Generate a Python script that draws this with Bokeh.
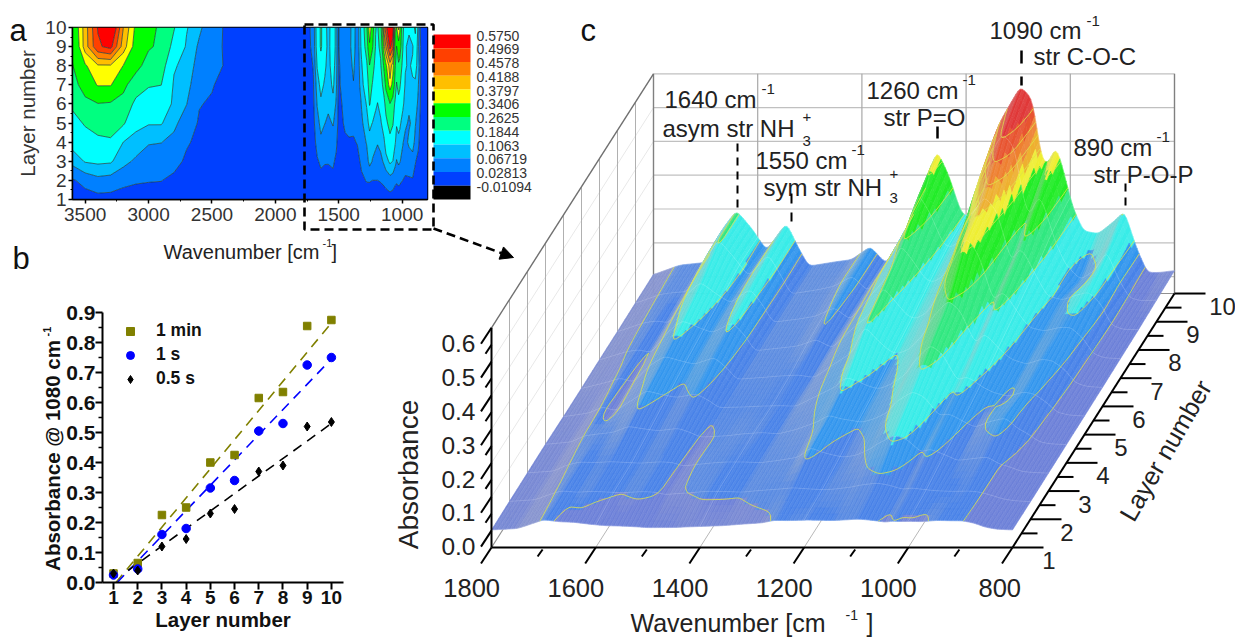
import numpy as np
from bokeh.embed import file_html
from bokeh.resources import INLINE
from bokeh.plotting import figure, ColumnDataSource
from bokeh.plotting.contour import contour_data
from bokeh.models import (Range1d, FixedTicker, Legend, LegendItem, Arrow, NormalHead,
                          Column, PrintfTickFormatter)

# ---------- data ----------
layers = [1, 2, 3, 4, 5, 6, 7, 8, 9, 10]

# panel b
abs_1min = [.03, .065, .225, .25, .40, .425, .615, .635, .855, .875]
abs_1s = [.025, .045, .16, .18, .315, .34, .505, .53, .725, .75]
abs_05s = [.03, .04, .12, .145, .23, .245, .37, .39, .52, .535]
fit_x_1min, fit_y_1min = [1.1, 10], [0.0, .865]
fit_x_1s, fit_y_1s = [1.15, 10], [0.0, .745]
fit_x_05s, fit_y_05s = [1.6, 10], [0.04, .53]

# colour scale of panel a
scale_labels = ["0.5750", "0.4969", "0.4578", "0.4188", "0.3797", "0.3406", "0.2625", "0.1844",
                "0.1063", "0.06719", "0.02813", "-0.01094"]
scale_colors = ["#ff0000", "#ff4000", "#ff8000", "#ffbf00", "#ffff00", "#00ff00", "#00ff80", "#00ffff",
                "#00bfff", "#0080ff", "#0040ff", "#000000"]
levels = [-.01094, .02813, .06719, .1063, .1844, .2625, .3406, .3797, .4188, .4578, .4969, .62]

# absorbance at layers 1..10 per wavenumber, high range
h3600 = [.010, .024, .080, .125, .165, .195, .230, .260, .275, .290]
h3500 = [.012, .040, .110, .160, .190, .240, .300, .335, .400, .400]
h3400 = [.015, .055, .115, .170, .210, .260, .345, .375, .490, .500]
h3300 = [.015, .050, .112, .175, .215, .255, .345, .375, .510, .560]
h3200 = [.012, .038, .080, .106, .195, .240, .280, .340, .400, .420]
h3100 = [.012, .032, .060, .090, .120, .165, .225, .285, .320, .330]
h3000 = [.012, .030, .050, .070, .110, .150, .190, .235, .270, .275]
h2900 = [.012, .029, .050, .068, .110, .150, .185, .220, .250, .255]
h2800 = [.010, .020, .040, .058, .075, .095, .100, .112, .160, .190]
h2700 = [.008, .012, .022, .032, .050, .068, .080, .090, .100, .110]
h2600 = [.005, .010, .015, .020, .024, .030, .040, .050, .060, .075]
h2500 = [.004, .006, .010, .012, .015, .024, .031, .035, .037, .040]
h2400 = [.002, .004, .006, .008, .010, .012, .016, .027, .026, .026]
h2300 = [.001, .002, .003, .004, .005, .006, .007, .008, .009, .010]
h2000 = [.001, .001, .002, .002, .003, .003, .004, .004, .005, .005]
high_wn = [3600, 3500, 3400, 3300, 3200, 3100, 3000, 2900, 2800, 2700, 2600, 2500, 2400, 2300, 2000]
high_cols = [h3600, h3500, h3400, h3300, h3200, h3100, h3000, h2900, h2800, h2700, h2600, h2500, h2400, h2300, h2000]

# absorbance at layers 1..10 per wavenumber, fingerprint range
a1800 = [.001, .001, .002, .002, .003, .003, .004, .004, .005, .006]
a1750 = [.002, .003, .004, .005, .006, .007, .008, .009, .012, .014]
a1726 = [.003, .005, .008, .010, .013, .015, .018, .020, .026, .028]
a1700 = [.004, .008, .012, .016, .020, .022, .026, .030, .040, .042]
a1670 = [.006, .014, .025, .038, .050, .070, .085, .110, .130, .136]
a1641 = [.008, .020, .033, .058, .080, .098, .120, .150, .195, .196]
a1610 = [.007, .019, .030, .050, .068, .085, .100, .115, .140, .140]
a1583 = [.006, .018, .030, .045, .060, .075, .085, .090, .085, .077]
a1545 = [.008, .020, .033, .052, .070, .095, .115, .130, .150, .160]
a1520 = [.006, .014, .022, .035, .050, .062, .075, .080, .085, .080]
a1502 = [.004, .008, .012, .015, .018, .020, .024, .025, .027, .027]
a1450 = [.004, .008, .014, .024, .032, .036, .040, .042, .045, .044]
a1420 = [.004, .008, .016, .026, .034, .040, .045, .050, .055, .050]
a1384 = [.006, .010, .016, .025, .035, .042, .065, .075, .085, .089]
a1353 = [.004, .010, .018, .030, .034, .035, .040, .040, .040, .038]
a1320 = [.008, .022, .035, .048, .060, .070, .090, .100, .120, .127]
a1280 = [.010, .030, .050, .070, .090, .110, .140, .170, .220, .246]
a1257 = [.012, .030, .080, .090, .118, .190, .220, .260, .330, .379]
a1234 = [.010, .028, .065, .080, .105, .150, .180, .215, .270, .305]
a1209 = [.010, .028, .055, .075, .090, .115, .135, .160, .180, .187]
a1194 = [.010, .028, .050, .070, .085, .105, .125, .150, .170, .178]
a1170 = [.012, .030, .055, .080, .100, .120, .145, .175, .200, .225]
a1142 = [.012, .035, .075, .100, .130, .165, .220, .280, .370, .440]
a1128 = [.012, .040, .090, .130, .165, .210, .280, .330, .420, .480]
a1096 = [.014, .050, .115, .160, .215, .260, .370, .400, .510, .565]
a1073 = [.012, .045, .105, .145, .190, .230, .320, .360, .470, .530]
a1055 = [.010, .035, .080, .110, .140, .170, .235, .270, .310, .350]
a1044 = [.009, .032, .065, .090, .110, .135, .180, .210, .260, .335]
a1028 = [.012, .035, .075, .095, .120, .165, .205, .250, .320, .388]
a1019 = [.011, .033, .070, .090, .115, .155, .195, .235, .310, .350]
a995 = [.010, .028, .055, .070, .090, .115, .140, .165, .190, .205]
a975 = [.008, .024, .040, .055, .075, .090, .100, .110, .120, .136]
a946 = [.007, .024, .045, .075, .062, .075, .090, .100, .070, .130]
a917 = [.006, .025, .050, .085, .075, .090, .100, .115, .100, .166]
a896 = [.006, .018, .030, .055, .070, .085, .100, .120, .160, .196]
a873 = [.004, .012, .020, .035, .045, .060, .070, .090, .075, .086]
a852 = [.003, .005, .008, .012, .016, .020, .022, .024, .022, .012]
a830 = [.002, .003, .005, .006, .008, .009, .010, .011, .012, .012]
a800 = [.001, .002, .003, .004, .005, .006, .008, .010, .014, .018]
low_wn = [1800, 1750, 1726, 1700, 1670, 1641, 1610, 1583, 1545, 1520, 1502, 1450, 1420, 1384, 1353, 1320, 1280,
          1257, 1234, 1209, 1194, 1170, 1142, 1128, 1096, 1073, 1055, 1044, 1028, 1019, 995, 975, 946, 917, 896,
          873, 852, 830, 800]
low_cols = [a1800, a1750, a1726, a1700, a1670, a1641, a1610, a1583, a1545, a1520, a1502, a1450, a1420, a1384, a1353,
            a1320, a1280, a1257, a1234, a1209, a1194, a1170, a1142, a1128, a1096, a1073, a1055, a1044, a1028, a1019,
            a995, a975, a946, a917, a896, a873, a852, a830, a800]

c_layer1 = [.002, .006, .018, .032, .026, .024, .018, .014, .012, .010, .008, .008, .010, .012, .014, .018, .022,
            .030, .029, .030, .031, .030, .029, .030, .033, .030, .027, .024, .028, .026, .027, .026, .030, .029, .029,
            .022, .010, .004, .002]
c_layer2 = [.003, .008, .022, .034, .030, .033, .031, .029, .033, .031, .024, .030, .034, .033, .031, .036, .040,
            .042, .040, .038, .037, .040, .045, .050, .055, .050, .042, .038, .042, .040, .036, .034, .032, .033, .030,
            .020, .010, .005, .002]
c_layer3 = [.004, .009, .026, .036, .034, .036, .034, .032, .036, .034, .024, .033, .036, .036, .034, .040, .050,
            .080, .065, .055, .050, .055, .075, .090, .115, .105, .080, .065, .075, .070, .055, .040, .045, .050, .030,
            .020, .008, .005, .003]
c_layer4 = [.005, .012, .030, .036, .040, .058, .050, .045, .052, .038, .026, .030, .036, .040, .036, .048, .070,
            .090, .080, .075, .070, .080, .100, .130, .160, .145, .110, .090, .095, .090, .070, .055, .075, .085, .055,
            .035, .012, .006, .004]
# upper layers of panel c that differ from panel a
c1750_upper = [.014, .022, .028, .030, .032, .034]
c1726_upper = [.032, .034, .034, .036, .036, .038]
c1502_upper = [.030, .030, .031, .032, .032, .031]

FONT = "Liberation Sans"

# ---------- panel a ----------
all_wn = np.array((high_wn + low_wn)[::-1], dtype=float)
all_z = np.array((high_cols + low_cols)[::-1], dtype=float).T
pa = figure(width=439, height=240, x_range=Range1d(3600, 800), y_range=Range1d(1, 10),
            output_backend="svg", toolbar_location=None, min_border_left=72, min_border_top=27,
            min_border_right=12, min_border_bottom=41, background_fill_color=None, border_fill_color=None)
pa.grid.visible = False
pa.contour(all_wn, np.array(layers, dtype=float), all_z, levels=levels,
           fill_color=scale_colors[:-1][::-1], line_color="#1a3a3a", line_width=0.7)
pa.xaxis.ticker = FixedTicker(ticks=[3500, 3000, 2500, 2000, 1500, 1000], minor_ticks=[3250, 2750, 2250, 1750, 1250])
pa.yaxis.ticker = FixedTicker(ticks=layers, minor_ticks=[1.5, 2.5, 3.5, 4.5, 5.5, 6.5, 7.5, 8.5, 9.5])
pa.yaxis.axis_label = "Layer number"
for ax in (pa.xaxis[0], pa.yaxis[0]):
    ax.major_label_text_font = FONT
    ax.major_label_text_font_size = "19px"
    ax.major_label_text_color = "#333333"
    ax.axis_label_text_font = FONT
    ax.axis_label_text_font_size = "20.5px"
    ax.axis_label_text_font_style = "normal"
    ax.axis_label_text_color = "#333333"
    ax.major_tick_in = 0
    ax.minor_tick_in = 0
    ax.major_tick_out = 4
    ax.minor_tick_out = 2
    ax.axis_line_width = 1.5
    ax.major_tick_line_width = 1.5
    ax.major_label_standoff = 2
pa.yaxis.axis_label_standoff = 3
pa.xaxis.major_label_standoff = 4
pa.outline_line_color = "#000000"
pa.outline_line_width = 1.5

# ---------- panel b ----------
pb = figure(width=353, height=398, x_range=Range1d(.545, 10.5), y_range=Range1d(0, .9),
            output_backend="svg", toolbar_location=None, min_border_left=102, min_border_top=72,
            min_border_right=10, min_border_bottom=56, background_fill_color=None, border_fill_color=None)
pb.grid.visible = False
pb.outline_line_color = None
pb.line(fit_x_1min, fit_y_1min, line_color="#808000", line_width=1.6, line_dash="10 7")
pb.line(fit_x_1s, fit_y_1s, line_color="#0000ff", line_width=1.6, line_dash="10 7")
pb.line(fit_x_05s, fit_y_05s, line_color="#000000", line_width=1.6, line_dash="10 7")
r1 = pb.scatter(layers, abs_1min, marker="square", size=7.5, color="#808000")
r2 = pb.scatter(layers, abs_1s, marker="circle", size=8.5, color="#0000ff")
r3 = pb.scatter(layers, abs_05s, marker="diamond", size=9, color="#000000")
leg = Legend(items=[LegendItem(label="1 min", renderers=[r1]), LegendItem(label="1 s", renderers=[r2]),
                    LegendItem(label="0.5 s", renderers=[r3])],
             location=(18, 193), margin=0, padding=0, spacing=3, glyph_width=20, glyph_height=20, label_height=20,
             label_standoff=16, border_line_color=None, background_fill_alpha=0,
             label_text_font=FONT, label_text_font_style="bold", label_text_font_size="17.5px",
             label_text_color="#111111")
pb.add_layout(leg)
pb.xaxis.ticker = FixedTicker(ticks=layers)
pb.yaxis.ticker = FixedTicker(ticks=[0, .1, .2, .3, .4, .5, .6, .7, .8, .9],
                              minor_ticks=[.05, .15, .25, .35, .45, .55, .65, .75, .85])
pb.yaxis.formatter = PrintfTickFormatter(format="%.1f")
pb.xaxis.axis_label = "Layer number"
for ax in (pb.xaxis[0], pb.yaxis[0]):
    ax.major_label_text_font = FONT
    ax.major_label_text_font_style = "bold"
    ax.major_label_text_font_size = "19px"
    ax.major_label_text_color = "#111111"
    ax.axis_label_text_font = FONT
    ax.axis_label_text_font_style = "bold"
    ax.axis_label_text_font_size = "20.5px"
    ax.axis_label_text_color = "#111111"
    ax.axis_line_width = 2
    ax.major_tick_line_width = 2
    ax.minor_tick_line_width = 1.5
    ax.major_tick_in = 0
    ax.minor_tick_in = 0
    ax.major_tick_out = 7
    ax.minor_tick_out = 4
    ax.major_label_standoff = 1
pb.yaxis.major_label_text_font_size = "21px"
pb.yaxis.major_label_standoff = 0
pb.xaxis.axis_label_standoff = 1

# ---------- panel c ----------
pc = figure(width=1235, height=638, x_range=Range1d(0, 1235), y_range=Range1d(638, 0),
            output_backend="svg", toolbar_location=None, min_border=0, x_axis_location=None, y_axis_location=None,
            background_fill_color=None, border_fill_color=None)
pc.grid.visible = False
pc.outline_line_color = None


def sx(w, l, z=0.0):
    return 491 + (1800 - np.asarray(w, dtype=float)) * 0.521 + (np.asarray(l, dtype=float) - 1) * 18.0


def sy(w, l, z=0.0):
    return 547 - (np.asarray(l, dtype=float) - 1) * 28.22 - (np.asarray(z, dtype=float) + .05) * 338.0


ZB, ZT = -.05, .6
# walls
for zv in [0, .1, .2, .3, .4, .5, .6]:
    pc.line(sx([1800, 800], 10), sy(0, 10, [zv, zv]), line_color="#c0c0c0", line_width=1.2)
    pc.line(sx(1800, [1, 10]), sy(0, [1, 10], zv), line_color="#e8e8e8", line_width=1)
for wv in [1600, 1400, 1200, 1000]:
    pc.line(sx([wv, wv], 10), sy(0, 10, [ZB, ZT]), line_color="#a8a8a8", line_width=1.2)
    pc.line(sx([wv, wv], [1, 10]), sy(0, [1, 10], ZB), line_color="#b8b8b8", line_width=1)
for lv in [2, 3, 4, 5, 6, 7, 8, 9]:
    pc.line(sx(1800, [lv, lv]), sy(0, lv, [ZB, ZT]), line_color="#b0b0b0", line_width=1)
pc.line(sx(1800, [10, 10]), sy(0, 10, [ZB, ZT]), line_color="#808080", line_width=1.4)
pc.line(sx(800, [10, 10]), sy(0, 10, [ZB, ZT]), line_color="#808080", line_width=1.4)
pc.line(sx(1800, [1, 10]), sy(0, [1, 10], ZT), line_color="#707070", line_width=1.4)
pc.line(sx(1800, [1, 10]), sy(0, [1, 10], ZB), line_color="#909090", line_width=1.2)
pc.line(sx([1800, 800], 10), sy(0, 10, ZB), line_color="#909090", line_width=1.2)

# surface on a fine mesh drawn from the tables
wf = np.arange(1800, 799, -4.0)
lf = np.arange(1, 10.01, .2)
col_arr = np.array(low_cols, dtype=float)
col_arr[:, 0] = c_layer1
col_arr[:, 1] = c_layer2
col_arr[:, 2] = c_layer3
col_arr[:, 3] = c_layer4
col_arr[low_wn.index(1750), 4:] = c1750_upper
col_arr[low_wn.index(1726), 4:] = c1726_upper
col_arr[low_wn.index(1502), 4:] = c1502_upper
wasc = np.array(low_wn[::-1], dtype=float)
Zw = np.array([np.interp(wf[::-1], wasc, col_arr[::-1, k])[::-1] for k in range(10)])
ker = np.exp(-.5 * (np.arange(-6, 7) / 1.2) ** 2)
ker /= ker.sum()
Zw = np.array([np.convolve(np.pad(r, 6, mode="edge"), ker, mode="valid") for r in Zw])
Zf = np.array([np.interp(lf, layers, Zw[:, i]) for i in range(len(wf))]).T  # shape (nl, nw)
ker2 = np.array([.25, .5, .25])
Zf = np.array([np.convolve(np.pad(Zf[:, i], 1, mode="edge"), ker2, mode="valid") for i in range(len(wf))]).T

surf_levels = np.array(levels[1:-1])
surf_rgb = np.array([(108, 128, 216), (72, 130, 232), (50, 150, 238), (56, 236, 232),
                     (48, 232, 128), (34, 236, 40), (238, 238, 50), (238, 176, 48), (238, 128, 48),
                     (232, 84, 48), (224, 56, 56)], dtype=float)
xs, ys, cols = [], [], []
for j in range(len(lf) - 2, -1, -1):
    for i in range(len(wf) - 1):
        zq = [Zf[j, i], Zf[j, i + 1], Zf[j + 1, i + 1], Zf[j + 1, i]]
        wq = [wf[i], wf[i + 1], wf[i + 1], wf[i]]
        lq = [lf[j], lf[j], lf[j + 1], lf[j + 1]]
        xs.append(sx(wq, lq).tolist())
        ys.append(sy(0, lq, zq).tolist())
        zm = float(np.mean(zq))
        rgb = surf_rgb[int(np.searchsorted(surf_levels, zm))].copy()
        rise = max(0.0, (Zf[j, i + 1] - Zf[j, i]) / 4.0)
        t = min(.72, 15.0 * rise ** .5) * (1 - min(1.0, zm / .4) * .7)
        rgb = rgb * (1 - t) + np.array([188, 188, 190]) * t
        if i % 2:
            rgb = rgb + (255 - rgb) * .06
        cols.append("#%02x%02x%02x" % tuple(int(v) for v in rgb))
pc.patches(xs="xs", ys="ys", fill_color="cols", line_color="cols", line_width=.6,
           source=ColumnDataSource(dict(xs=xs, ys=ys, cols=cols)))

# faint grid on the surface
iz = [np.array([np.interp(lv, lf, Zf[:, i]) for i in range(len(wf))]) for lv in layers]
for k, lv in enumerate(layers):
    pc.line(sx(wf, lv), sy(0, lv, iz[k]), line_color="#ffffff", line_alpha=.22, line_width=.8)
for wv in [1600, 1400, 1200, 1000]:
    zz = [np.interp(wv, wf[::-1], Zf[j][::-1]) for j in range(len(lf))]
    pc.line(sx(wv, lf), sy(0, lf, zz), line_color="#ffffff", line_alpha=.22, line_width=.8)

# yellow contour lines on the surface
lv_lines = levels[1:-1]
cd = contour_data(wf[::-1], lf, Zf[:, ::-1], lv_lines, want_fill=False, want_line=True)
for lv, xl, yl in zip(lv_lines, cd.line_data.xs, cd.line_data.ys):
    if len(xl):
        pc.line(sx(xl, yl), sy(0, yl, lv), line_color="#dfe24a", line_width=.9, line_alpha=.9)

# axes of the 3D box
AX = "#000000"
pc.line(sx([1800, 800], 1), sy(0, 1, ZB), line_color=AX, line_width=2)
pc.line(sx(800, [1, 10]), sy(0, [1, 10], ZB), line_color=AX, line_width=2)
pc.line(sx(1800, [1, 1]), sy(0, 1, [ZB, ZT]), line_color=AX, line_width=2)
wn_ticks = [1800, 1600, 1400, 1200, 1000, 800]
wn_minor = [1700, 1500, 1300, 1100, 900]
for wv in wn_ticks:
    x0, y0 = float(sx(wv, 1)), float(sy(0, 1, ZB))
    pc.line([x0, x0 - 10.5], [y0, y0 + 16], line_color=AX, line_width=2)
for wv in wn_minor:
    x0, y0 = float(sx(wv, 1)), float(sy(0, 1, ZB))
    pc.line([x0 - 1, x0 - 6], [y0 + 2, y0 + 9], line_color=AX, line_width=2)
pc.text(sx(wn_ticks, 1) + 8.5, [587] * 6, text=[str(v) for v in wn_ticks], text_font={"value": FONT},
        text_font_size="25.5px", text_align="right", text_baseline="middle", text_color="#222222")
z_ticks = [0, .1, .2, .3, .4, .5, .6]
for zv in z_ticks:
    x0, y0 = float(sx(1800, 1)), float(sy(0, 1, zv))
    pc.line([x0, x0 - 10.5], [y0, y0 + 16], line_color=AX, line_width=2)
    x1, y1 = float(sx(1800, 1)), float(sy(0, 1, zv - .05))
    if zv > 0:
        pc.line([x1, x1 - 6], [y1, y1 + 9], line_color=AX, line_width=2)
pc.text([475] * 7, sy(0, 1, z_ticks) + 16, text=["%.1f" % v for v in z_ticks], text_font={"value": FONT},
        text_font_size="24.5px", text_align="right", text_baseline="middle", text_color="#222222")
for lv in layers:
    x0, y0 = float(sx(800, lv)), float(sy(0, lv, ZB))
    pc.line([x0, x0 + 31], [y0, y0], line_color=AX, line_width=2)
    if lv < 10:
        x0, y0 = float(sx(800, lv + .5)), float(sy(0, lv + .5, ZB))
        pc.line([x0, x0 + 16], [y0, y0], line_color=AX, line_width=2)
pc.text(sx(800, layers) + np.array([48 if v > 9 else 36.5 for v in layers]), sy(0, layers, ZB) + 13,
        text=[str(v) for v in layers], text_font={"value": FONT}, text_font_size="24px",
        text_align="center", text_baseline="middle", text_color="#222222")


def label(x, y, s, size, angle=0.0, align="left", style="normal", color="#222222"):
    pc.text([x], [y], text=[s], text_font={"value": FONT}, text_font_size=f"{size}px", text_align=align,
            text_baseline="middle", angle=angle, text_color=color, text_font_style=style)


label(408, 474, "Absorbance", 28, angle=np.pi / 2, align="center")
label(1165, 450, "Layer number", 25.5, angle=np.radians(60), align="center")
label(630, 622, "Wavenumber [cm", 25)
label(845, 614, "-1", 14)
label(866, 622, "]", 25)

# peak annotations
for x, y, s, sup_x, sup_y in [(664, 99, "1640 cm", 761, 88), (755, 160, "1550 cm", 851, 149), (866, 90, "1260 cm", 962, 79),
                              (989, 30, "1090 cm", 1086, 20), (1073, 147, "890 cm", 1156, 136)]:
    label(x, y, s, 24)
    label(sup_x, sup_y, "-1", 15)
label(662, 128, "asym str NH", 24)
label(802, 140, "3", 15)
label(802, 116, "+", 15)
label(763, 187, "sym str NH", 24)
label(889, 197, "3", 15)
label(889, 173, "+", 15)
label(883, 117, "str P=O", 24)
label(1033, 56, "str C-O-C", 24)
label(1093, 174, "str P-O-P", 24)
pc.line([737, 737], [143, 208], line_color="#000000", line_width=2, line_dash="8 6")
pc.line([791, 791], [193, 203], line_color="#000000", line_width=2)
pc.line([791, 791], [212, 221], line_color="#000000", line_width=2)
pc.line([937, 937], [126, 138], line_color="#000000", line_width=2.5)
pc.line([1021, 1021], [50, 63], line_color="#000000", line_width=2.5)
pc.line([1021, 1021], [76, 85], line_color="#000000", line_width=2.5)
pc.line([1125, 1125], [183, 210], line_color="#000000", line_width=2, line_dash="8 6")

# panel letters
label(9, 30, "a", 31, color="#111111")
label(12, 258, "b", 31, color="#111111")
label(580, 30, "c", 31, color="#111111")

# panel a: colour scale, axis title, zoom box
n = len(scale_colors)
top, bot = 34.0, 199.0
h = (bot - top) / n
pc.quad(left=433, right=470, top=[top + i * h for i in range(n)], bottom=[top + (i + 1) * h for i in range(n)],
        fill_color=scale_colors, line_color=None)
pc.text([476] * n, [top + 1 + i * h for i in range(n)], text=scale_labels, text_font={"value": FONT},
        text_font_size="14px", text_baseline="middle", text_color="#333333")
label(163, 251, "Wavenumber [cm", 20)
label(322, 242, "-1", 11)
label(331, 251, "]", 20)
pc.line([304, 433, 433, 304, 304], [24, 24, 229, 229, 24], line_color="#000000", line_width=2.6, line_dash="9 5")
pc.add_layout(Arrow(end=NormalHead(size=13, fill_color="#000000", line_color="#000000"), x_start=433, y_start=228,
                    x_end=513, y_end=257, line_color="#000000", line_width=2.6, line_dash="9 5"))

# panel b: axis title with superscript
label(52, 455, "Absorbance @ 1080 cm", 20.5, angle=np.pi / 2, align="center", style="bold", color="#111111")
label(46, 331, "-1", 11, angle=np.pi / 2, align="center", style="bold", color="#111111")

root = Column(children=[Column(children=[pa]), Column(children=[pb]), Column(children=[pc], margin=(-638, 0, 0, 0))])
open("out.html", "w").write(file_html(root, INLINE))
